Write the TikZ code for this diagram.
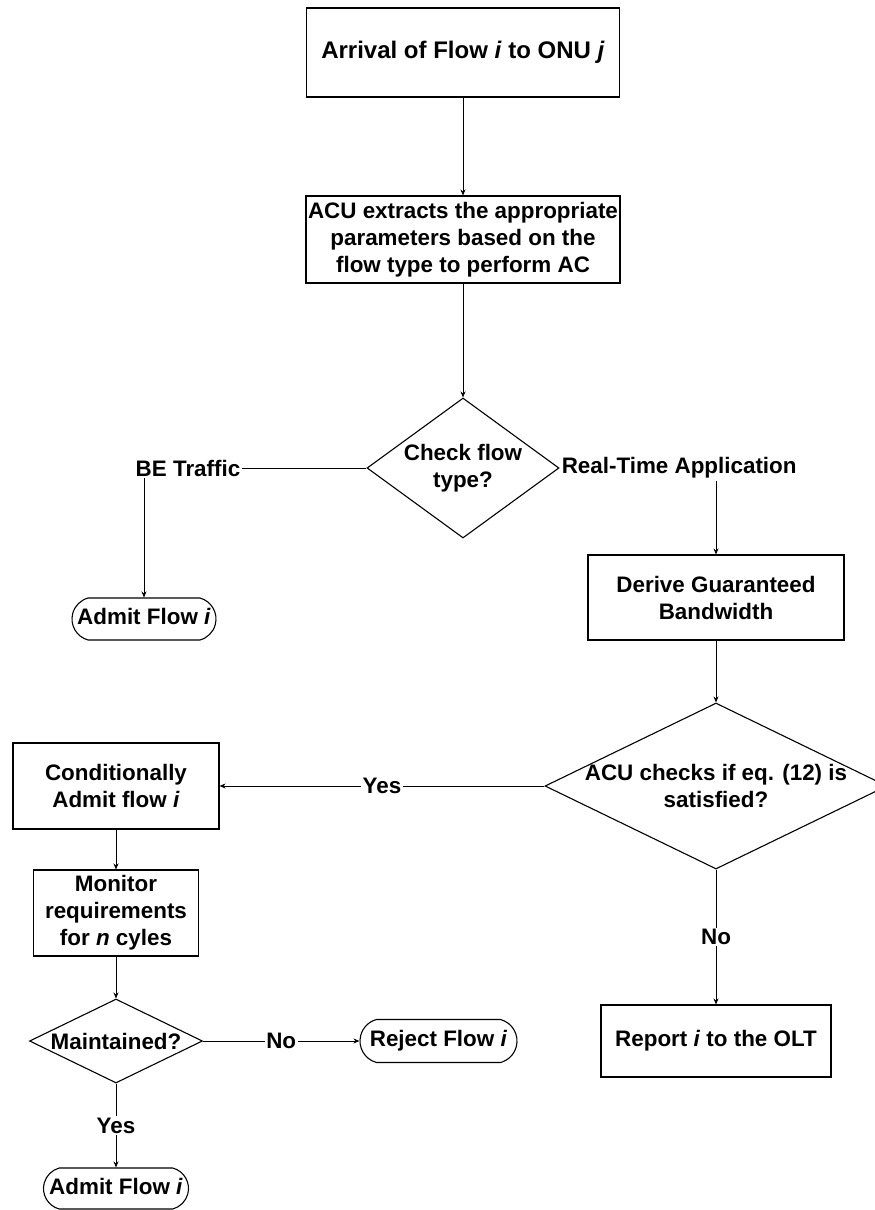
\documentclass[tikz,border=0pt]{standalone}
\usepackage{fontspec}
\setmainfont{Liberation Sans}
\usetikzlibrary{shapes.geometric,shapes.misc,arrows.meta}
\begin{document}
\begin{tikzpicture}[x=1pt,y=-1pt,
  txt/.style={font=\bfseries\fontsize{22.4}{27}\selectfont, align=center},
  box/.style={txt, draw, rectangle, line width=1.1pt, inner sep=0pt},
  decision/.style={draw, diamond, line width=1.1pt, inner sep=0pt},
  term/.style={txt, draw, rounded rectangle, rounded rectangle arc length=150,
               line width=1.1pt, inner sep=0pt, text height=16pt, text depth=4.5pt},
  lbl/.style={txt, inner sep=1.5pt},
  plain/.style={line width=0.8pt},
  conn/.style={line width=0.8pt, -{Stealth[length=6pt,width=5pt]}}
]
\useasboundingbox (0,0) rectangle (875,1210);

% main column
\node[box, minimum width=313pt, minimum height=89pt,
      font=\bfseries\fontsize{24}{28}\selectfont] (arrival) at (463,52.5)
  {Arrival of Flow \textit{i} to ONU \textit{j}};
\node[box, minimum width=314pt, minimum height=87pt] (acu) at (463,239.5)
  {ACU extracts the appropriate\\parameters based on the\\flow type to perform AC};
\node[decision, minimum width=192pt, minimum height=140pt] (chk) at (463,468) {};
\node[txt] (chk-t) at (chk.center) {Check flow\\type?};

% best-effort branch
\node[lbl] (be) at (188,468) {BE Traffic};
\node[term, minimum width=144pt, minimum height=42pt] (admit1) at (144,619)
  {Admit Flow \textit{i}};

% real-time branch
\node[lbl, anchor=west, inner sep=2pt] (rt) at (chk.east) {Real-Time Application};
\node[box, minimum width=256pt, minimum height=85pt] (derive) at (716,597.5)
  {Derive Guaranteed\\Bandwidth};
\node[decision, minimum width=342pt, minimum height=166pt] (eq) at (716,786) {};
\node[txt] (eq-t) at (eq.center) {ACU checks if eq. (12) is\\satisfied?};
\node[box, minimum width=230pt, minimum height=72pt] (report) at (716,1041)
  {Report \textit{i} to the OLT};

% conditional admission
\node[box, minimum width=206pt, minimum height=86pt] (cond) at (116,786)
  {Conditionally\\Admit flow \textit{i}};
\node[box, minimum width=165pt, minimum height=86pt] (mon) at (116,913)
  {Monitor\\requirements\\for \textit{n} cyles};
\node[decision, minimum width=173pt, minimum height=84pt] (maint) at (116,1041) {};
\node[txt] (maint-t) at (maint.center) {Maintained?};
\node[term, minimum width=157pt, minimum height=43pt] (reject) at (438.5,1041)
  {Reject Flow \textit{i}};
\node[term, minimum width=145pt, minimum height=41pt] (admit2) at (116,1188.5)
  {Admit Flow \textit{i}};

% connectors
\draw[conn] (arrival) -- (acu);
\draw[conn] (acu) -- (chk.north);
\draw[plain] (chk.west) -- (be.east);
\draw[conn] (be.south -| admit1.north) -- (admit1.north);
\draw[conn] (rt.south -| derive.north) -- (derive.north);
\draw[conn] (derive) -- (eq.north);
\draw[conn] (eq.west) -- node[lbl, fill=white] (yes1) {Yes} (cond.east);
\draw[conn] (eq.south) -- node[lbl, fill=white] (no1) {No} (report.north);
\draw[conn] (cond) -- (mon);
\draw[conn] (mon) -- (maint.north);
\draw[conn] (maint.east) -- node[lbl, fill=white] (no2) {No} (reject.west);
\draw[conn] (maint.south) -- node[lbl, fill=white] (yes2) {Yes} (admit2.north);
\end{tikzpicture}
\end{document}
